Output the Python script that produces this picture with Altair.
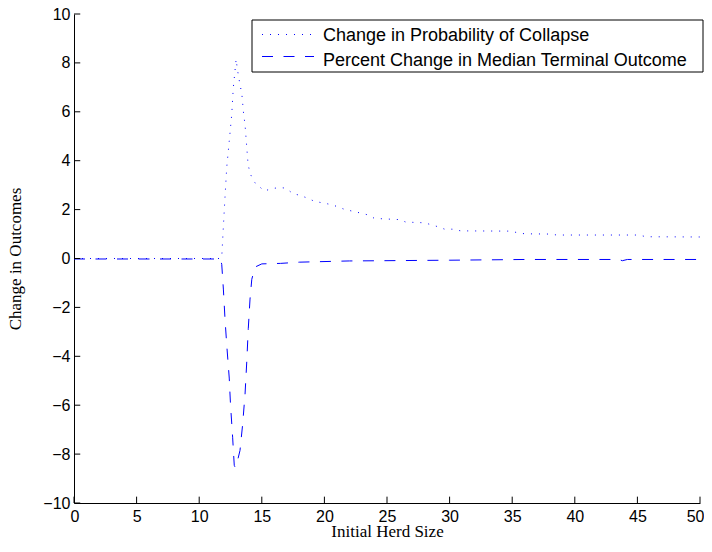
import altair as alt
import pandas as pd

series_names = ["Change in Probability of Collapse",
                "Percent Change in Median Terminal Outcome"]

prob_x = [0, 11.7, 11.8, 11.93, 12.06, 12.2, 12.4, 12.6, 12.72, 12.95, 13.04, 13.26,
          13.4, 13.55, 13.66, 13.8, 13.9, 14.05, 14.2, 14.45, 14.7, 15.2, 15.8, 16.4,
          16.9, 17.5, 18.0, 18.6, 19.2, 19.9, 20.4, 21.0, 21.6, 22.2, 22.8, 23.5, 24.0,
          26.0, 26.5, 28.0, 29.0, 29.6, 30.2, 30.9, 34.8, 35.4, 36.0, 37.9, 38.6, 45.1,
          45.7, 50.0]
prob_y = [0.0, 0.0, 0.05, 1.3, 2.5, 3.73, 4.8, 5.9, 6.96, 8.15, 7.77, 7.1,
          6.76, 5.9, 5.48, 4.54, 3.87, 3.5, 3.33, 3.1, 2.99, 2.76, 2.86, 2.9,
          2.88, 2.65, 2.59, 2.48, 2.34, 2.27, 2.22, 2.13, 2.01, 1.94, 1.87, 1.78, 1.64,
          1.59, 1.49, 1.46, 1.31, 1.2, 1.2, 1.13, 1.12, 1.06, 1.01, 1.0, 0.96, 0.96,
          0.89, 0.88]

pct_x = [0, 11.7, 11.8, 11.93, 12.06, 12.2, 12.4, 12.5, 12.67, 12.8, 12.88, 13.0,
         13.26, 13.47, 13.66, 13.8, 13.92, 14.06, 14.2, 14.46, 15.0, 16.5, 18.0, 22.0,
         30.0, 36.0, 43.5, 43.8, 44.2, 50.0]
pct_y = [-0.02, -0.02, -0.24, -1.25, -2.46, -3.54, -4.89, -5.97, -7.31, -8.46, -8.55, -8.4,
         -7.85, -6.78, -5.56, -4.21, -2.87, -1.66, -0.85, -0.35, -0.22, -0.2, -0.15, -0.1,
         -0.07, -0.04, -0.04, -0.09, -0.04, -0.04]

x_ticks = [0, 5, 10, 15, 20, 25, 30, 35, 40, 45, 50]
y_ticks = [-10, -8, -6, -4, -2, 0, 2, 4, 6, 8, 10]

BLUE = "#0000ff"
DASHES = [[1, 7], [11, 10.5]]

df = pd.concat([
    pd.DataFrame({"x": prob_x, "y": prob_y, "series": series_names[0],
                  "order": list(range(len(prob_x)))}),
    pd.DataFrame({"x": pct_x, "y": pct_y, "series": series_names[1],
                  "order": list(range(len(pct_x)))}),
], ignore_index=True)

xs = alt.Scale(domain=[0, 50], nice=False, zero=False)
ys = alt.Scale(domain=[-10, 10], nice=False, zero=False)

x_axis = alt.Axis(values=x_ticks, title="Initial Herd Size", labelPadding=5,
                  labelFlush=True, labelFlushOffset=4,
                  titleX=313, titleY=33, titleBaseline="alphabetic")
y_axis = alt.Axis(values=y_ticks, title="Change in Outcomes", labelPadding=4,
                  titleX=-59, titleY=244.5, titleBaseline="middle", titleAngle=270)

lines = alt.Chart(df).mark_line(strokeWidth=1, clip=True).encode(
    x=alt.X("x:Q", scale=xs, axis=x_axis),
    y=alt.Y("y:Q", scale=ys, axis=y_axis),
    color=alt.Color("series:N", scale=alt.Scale(domain=series_names,
                                                range=[BLUE, BLUE]), legend=None),
    strokeDash=alt.StrokeDash("series:N", scale=alt.Scale(domain=series_names,
                                                          range=DASHES), legend=None),
    order="order:Q",
)

xt = alt.Chart(pd.DataFrame({"t": x_ticks})).mark_rule(color="black", strokeWidth=1).encode(
    x=alt.X("t:Q", scale=xs, axis=x_axis),
    y=alt.datum(-10),
    y2=alt.datum(-9.74),
)
yt = alt.Chart(pd.DataFrame({"t": y_ticks})).mark_rule(color="black", strokeWidth=1).encode(
    y=alt.Y("t:Q", scale=ys, axis=y_axis),
    x=alt.datum(0),
    x2=alt.datum(0.5),
)

# legend box and entries (layout in pixels, relative to the plot area)
legend_box = alt.Chart(pd.DataFrame({"k": [0]})).mark_rect(
    fill="white", stroke="black", strokeWidth=1).encode(
    x=alt.value(178), x2=alt.value(629), y=alt.value(6), y2=alt.value(58))

sym_y = [20.5, 42.5]
txt_y = [22.0, 46.5]
legend_layers = [legend_box]
for i, name in enumerate(series_names):
    one = pd.DataFrame({"series": [name]})
    legend_layers.append(
        alt.Chart(one).mark_rule(color=BLUE, strokeWidth=1, strokeDash=DASHES[i]).encode(
            x=alt.value(188), x2=alt.value(240), y=alt.value(sym_y[i])))
    legend_layers.append(
        alt.Chart(one).mark_text(align="left", baseline="middle", font="Liberation Sans",
                                 fontSize=18, color="black").encode(
            x=alt.value(249), y=alt.value(txt_y[i]), text="series:N"))

chart = alt.layer(lines, xt, yt, *legend_layers).properties(
    width=626, height=489,
    autosize=alt.AutoSizeParams(type="none"),
    padding={"left": 66, "top": 6, "right": 4, "bottom": 36},
).configure_view(stroke=None).configure_axis(
    grid=False, ticks=False, domainColor="black", domainWidth=1,
    labelFont="Liberation Sans", labelFontSize=16, labelColor="black",
    titleFont="Liberation Serif", titleFontSize=17, titleFontWeight="normal",
    titleColor="black",
)

chart.save("out.html", embed_options={"renderer": "svg", "actions": False})
